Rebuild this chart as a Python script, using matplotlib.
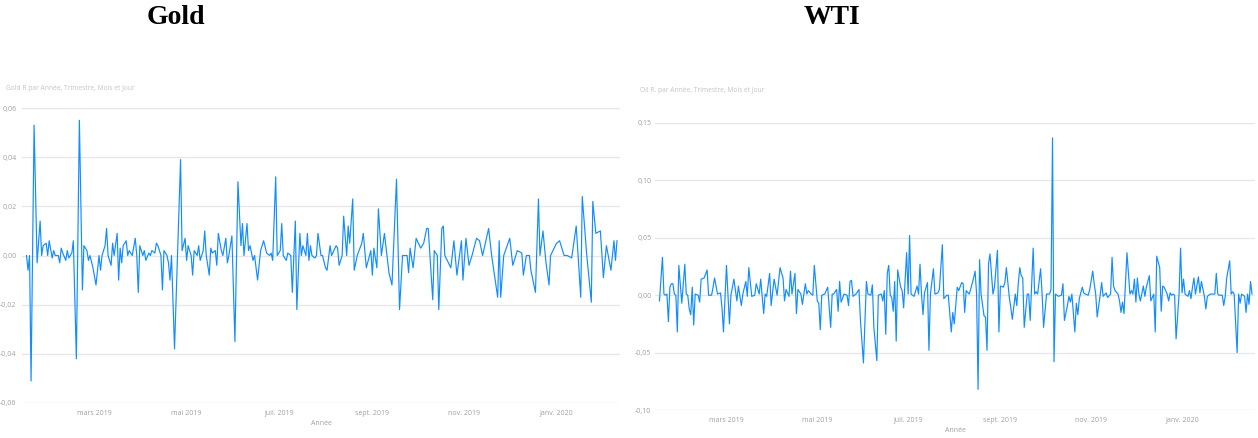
import matplotlib.pyplot as plt
from matplotlib.ticker import FuncFormatter, FixedLocator
import pandas as pd

# day offsets from 15 Jan 2019 and daily returns
gold_days = [0, 1, 2, 3, 5, 7, 9, 10, 11, 13, 14, 15, 17, 18, 19, 21, 22, 23, 24, 26,
             27, 28, 30, 31, 33, 35, 37, 38, 40, 41, 42, 44, 46, 48, 49, 50, 52, 53, 54, 56,
             57, 58, 60, 61, 62, 63, 64, 66, 67, 68, 70, 72, 73, 74, 75, 77, 78, 79, 81, 82,
             83, 85, 86, 87, 89, 90, 91, 93, 94, 95, 96, 98, 102, 103, 105, 106, 107, 109, 110, 111,
             113, 114, 115, 117, 118, 119, 121, 122, 123, 125, 126, 127, 129, 130, 132, 133, 134, 136, 138, 140,
             142, 143, 144, 146, 147, 148, 150, 151, 153, 155, 157, 159, 161, 162, 163, 165, 166, 168, 169, 170,
             172, 173, 175, 176, 178, 179, 181, 182, 183, 185, 186, 187, 188, 189, 191, 192, 193, 195, 196, 198,
             199, 201, 202, 205, 206, 207, 209, 210, 212, 213, 214, 216, 217, 219, 222, 223, 225, 228, 229, 230,
             232, 233, 235, 237, 240, 242, 245, 247, 249, 252, 253, 254, 256, 258, 261, 263, 265, 266, 269, 270,
             272, 273, 275, 276, 277, 281, 283, 285, 288, 289, 291, 293, 295, 298, 300, 302, 306, 308, 312, 313,
             314, 316, 320, 322, 325, 328, 329, 331, 333, 334, 337, 339, 340, 342, 344, 346, 347, 351, 353, 356,
             358, 361, 364, 367, 368, 371, 374, 375, 377, 380, 382, 384, 387, 389, 390, 391]
gold_ret = [0.000, -0.006, 0.000, -0.051, 0.053, -0.003, 0.014, 0.000, 0.004, 0.005, 0.000, 0.006, -0.001, 0.002, 0.000, 0.000, -0.003, 0.003, 0.001, -0.002,
            0.002, -0.001, 0.001, 0.006, -0.042, 0.055, -0.014, 0.004, 0.002, -0.002, 0.000, -0.005, -0.012, 0.000, -0.006, 0.000, 0.004, 0.011, 0.000, -0.004,
            0.005, 0.000, 0.009, -0.010, 0.003, -0.003, 0.004, 0.006, 0.000, 0.002, 0.000, 0.007, 0.000, -0.015, 0.004, 0.000, 0.002, -0.002, 0.001, 0.000,
            0.002, 0.001, 0.005, 0.004, 0.000, -0.014, 0.002, 0.000, -0.003, -0.010, 0.000, -0.038, 0.039, 0.002, 0.007, -0.002, 0.004, 0.000, -0.008, 0.002,
            0.000, 0.004, -0.002, 0.002, 0.010, 0.000, -0.008, 0.003, 0.001, 0.002, -0.004, 0.009, 0.002, 0.000, 0.007, -0.003, 0.000, 0.008, -0.035, 0.030,
            0.004, 0.013, 0.000, 0.013, 0.002, 0.004, -0.002, 0.000, -0.010, 0.002, 0.006, 0.001, 0.000, 0.001, -0.002, 0.032, 0.000, 0.002, 0.013, 0.000,
            -0.002, 0.001, 0.000, -0.015, 0.014, -0.022, 0.009, 0.000, 0.004, 0.000, 0.009, -0.002, 0.004, 0.000, -0.001, 0.000, 0.009, 0.000, 0.000, -0.005,
            -0.006, 0.004, 0.000, 0.004, 0.003, -0.004, 0.000, 0.016, 0.000, 0.012, 0.005, 0.023, -0.006, 0.000, 0.005, 0.009, -0.005, 0.002, -0.008, 0.003,
            -0.005, 0.019, 0.000, 0.009, -0.007, -0.012, 0.031, -0.022, 0.000, 0.000, -0.007, 0.003, -0.005, 0.007, 0.003, 0.005, 0.011, 0.011, -0.018, 0.002,
            0.000, -0.022, 0.011, 0.012, 0.000, -0.005, 0.006, -0.008, 0.006, -0.010, 0.007, -0.004, 0.000, 0.007, 0.006, 0.000, 0.011, 0.000, -0.017, 0.006,
            -0.017, 0.000, 0.007, -0.004, 0.002, 0.001, -0.008, 0.000, 0.000, -0.006, -0.015, 0.023, 0.000, 0.010, -0.003, -0.012, 0.000, 0.005, 0.006, 0.000,
            0.000, -0.001, 0.012, -0.017, 0.024, 0.000, -0.019, 0.022, 0.009, 0.010, -0.009, 0.004, -0.006, 0.006, -0.002, 0.006]

oil_days = [0, 2, 3, 4, 5, 6, 7, 8, 9, 10, 11, 12, 13, 15, 17, 18, 19, 20, 21, 22,
            23, 24, 26, 27, 28, 30, 32, 33, 35, 36, 37, 39, 41, 42, 43, 45, 47, 48, 50, 52,
            53, 55, 56, 58, 59, 60, 62, 64, 65, 67, 68, 70, 71, 72, 74, 75, 77, 79, 81, 83,
            84, 85, 87, 88, 89, 91, 92, 93, 95, 96, 98, 99, 100, 102, 103, 104, 106, 107, 108, 109,
            111, 113, 115, 116, 117, 119, 120, 121, 122, 124, 126, 127, 128, 129, 130, 132, 134, 135, 137, 139,
            140, 142, 143, 144, 146, 147, 149, 150, 151, 152, 153, 154, 155, 156, 157, 158, 159, 160, 162, 163,
            164, 166, 167, 168, 169, 171, 173, 174, 175, 176, 177, 178, 180, 181, 182, 184, 185, 187, 188, 190,
            191, 193, 194, 196, 197, 198, 200, 201, 203, 204, 205, 206, 208, 209, 211, 212, 213, 214, 215, 216,
            218, 219, 220, 221, 222, 224, 225, 227, 228, 229, 231, 232, 233, 235, 236, 237, 239, 240, 241, 242,
            243, 244, 245, 247, 248, 249, 251, 252, 253, 254, 256, 257, 258, 260, 262, 263, 264, 265, 266, 268,
            270, 271, 272, 274, 275, 276, 277, 279, 280, 281, 282, 284, 285, 286, 288, 289, 291, 292, 293, 294,
            296, 297, 298, 300, 301, 303, 304, 305, 306, 308, 309, 310, 311, 312, 314, 316, 317, 318, 319, 320,
            321, 322, 323, 325, 326, 327, 329, 330, 332, 333, 334, 336, 337, 338, 339, 341, 342, 343, 344, 345,
            346, 347, 349, 350, 351, 352, 353, 355, 356, 357, 358, 359, 360, 362, 363, 364, 366, 367, 368, 370,
            371, 373, 374, 375, 376, 378, 379, 380, 381, 383, 384, 385, 386, 388, 389, 390, 391, 393, 394, 395,
            396, 397, 398]
oil_ret = [-0.005, 0.033, 0.001, 0.000, 0.001, -0.023, 0.007, 0.010, 0.010, 0.001, 0.000, -0.032, 0.026, -0.007, 0.027, 0.001, 0.000, -0.012, -0.017, 0.007,
           -0.026, 0.001, 0.000, -0.006, 0.014, 0.015, 0.022, 0.000, 0.000, 0.007, 0.015, 0.001, 0.002, -0.011, -0.032, 0.026, -0.025, 0.000, 0.014, -0.005,
           0.008, -0.009, 0.001, 0.012, -0.001, 0.024, -0.001, 0.000, 0.010, 0.001, 0.014, -0.016, 0.001, -0.001, 0.019, -0.009, 0.014, 0.000, 0.024, 0.015,
           -0.005, 0.005, -0.001, 0.021, 0.001, 0.019, -0.016, 0.005, 0.001, -0.008, 0.010, 0.001, 0.004, 0.001, 0.000, 0.026, -0.005, -0.007, -0.030, 0.000,
           0.001, 0.007, -0.028, 0.001, 0.001, 0.005, -0.014, 0.012, -0.006, 0.001, 0.000, -0.009, 0.012, 0.013, -0.001, 0.001, 0.005, -0.022, -0.059, 0.012,
           0.001, 0.000, 0.009, -0.028, -0.057, 0.000, 0.001, -0.005, 0.004, -0.034, 0.019, 0.026, 0.000, -0.002, -0.014, 0.012, -0.040, 0.022, 0.007, 0.004,
           -0.011, 0.037, 0.001, 0.052, 0.001, -0.001, 0.008, 0.001, 0.027, 0.001, -0.017, 0.002, 0.011, -0.048, 0.001, 0.023, 0.001, 0.002, 0.005, 0.044,
           -0.003, 0.000, 0.000, -0.032, -0.015, -0.025, 0.007, 0.004, 0.011, 0.010, -0.015, 0.004, 0.001, 0.005, 0.015, 0.021, 0.001, -0.082, 0.031, 0.001,
           -0.018, -0.019, -0.048, 0.027, 0.036, 0.001, 0.007, 0.039, -0.032, 0.008, 0.007, 0.011, 0.024, -0.002, -0.011, -0.021, 0.001, -0.009, 0.010, 0.024,
           0.017, 0.015, -0.028, 0.001, 0.001, -0.022, 0.041, 0.001, 0.003, 0.001, 0.023, 0.001, -0.028, 0.001, 0.001, 0.005, 0.137, -0.058, 0.001, -0.001,
           0.000, 0.010, -0.022, -0.009, -0.001, -0.006, 0.001, -0.032, -0.007, -0.017, -0.003, 0.007, 0.002, 0.001, 0.000, 0.005, 0.021, 0.010, 0.001, -0.019,
           0.000, 0.011, -0.001, 0.002, -0.002, 0.001, 0.033, 0.008, 0.004, 0.001, -0.005, -0.015, -0.006, -0.016, 0.037, 0.001, 0.004, 0.001, 0.014, -0.006,
           0.015, 0.001, -0.005, 0.008, -0.001, 0.007, 0.017, -0.005, 0.001, -0.032, 0.034, 0.024, -0.014, 0.008, 0.007, 0.001, -0.005, 0.002, 0.000, 0.001,
           0.000, -0.038, 0.001, 0.041, 0.002, 0.014, 0.001, -0.001, 0.004, -0.003, 0.007, 0.015, 0.001, 0.016, 0.002, 0.012, -0.001, -0.012, -0.001, 0.001,
           0.001, 0.001, 0.019, 0.001, 0.000, 0.000, -0.009, -0.001, 0.015, 0.030, 0.001, 0.003, 0.001, -0.050, 0.001, -0.007, 0.001, -0.001, -0.015, 0.001,
           -0.008, 0.012, 0.001]

month_ticks = ['2019-03-01', '2019-05-01', '2019-07-01', '2019-09-01', '2019-11-01', '2020-01-01']
month_labels = ['mars 2019', 'mai 2019', 'juil. 2019', 'sept. 2019', 'nov. 2019', 'janv. 2020']

start = pd.Timestamp('2019-01-15')
blue = '#118DFF'
grey = '#A0A0A0'
small = ['Open Sans', 'DejaVu Sans']


def comma(v, pos):
    return ('%.2f' % v).replace('.', ',')


def draw(ax, days, ret, yticks, lpad):
    dates = start + pd.to_timedelta(days, unit='D')
    ax.plot(dates, ret, color=blue, lw=0.85)
    ax.set_xlim(dates[0] - pd.Timedelta(days=3), dates[-1] + pd.Timedelta(days=2))
    ax.set_ylim(yticks[0], yticks[-1])
    ax.yaxis.set_major_locator(FixedLocator(yticks))
    ax.yaxis.set_major_formatter(FuncFormatter(comma))
    ax.set_xticks(pd.to_datetime(month_ticks))
    ax.set_xticklabels(month_labels)
    ax.grid(axis='y', color='#E6E6E6', lw=0.9)
    ax.set_axisbelow(True)
    for s in ax.spines.values():
        s.set_visible(False)
    ax.tick_params(length=0, labelsize=5, labelcolor=grey)
    ax.tick_params(axis='y', pad=lpad)
    ax.tick_params(axis='x', pad=5)
    for t in ax.get_xticklabels() + ax.get_yticklabels():
        t.set_family(small)
    ax.set_xlabel('Année', fontsize=5, color=grey, family=small, labelpad=2)


fig = plt.figure(figsize=(12.58, 4.38), dpi=100)

ax1 = fig.add_axes([22 / 1258, 35 / 438, 598 / 1258, 295 / 438])
draw(ax1, gold_days, gold_ret, [-0.06, -0.04, -0.02, 0.0, 0.02, 0.04, 0.06], 4)
ax2 = fig.add_axes([655 / 1258, 28 / 438, 600 / 1258, 287 / 438])
draw(ax2, oil_days, oil_ret, [-0.10, -0.05, 0.0, 0.05, 0.10, 0.15], 2.5)

fig.text(176 / 1258, 1 - 17 / 438, 'Gold', ha='center', va='center', fontsize=20,
         fontweight='bold', family='Liberation Serif')
fig.text(832 / 1258, 1 - 17 / 438, 'WTI', ha='center', va='center', fontsize=20,
         fontweight='bold', family='Liberation Serif')
fig.text(6 / 1258, 1 - 89 / 438, 'Gold R par Année, Trimestre, Mois et Jour', ha='left', va='center',
         fontsize=4.8, color='#C4C4C4', family=small)
fig.text(640 / 1258, 1 - 91 / 438, 'Oil R. par Année, Trimestre, Mois et Jour', ha='left', va='center',
         fontsize=4.8, color='#C4C4C4', family=small)

fig.savefig('out.png', dpi=100)
